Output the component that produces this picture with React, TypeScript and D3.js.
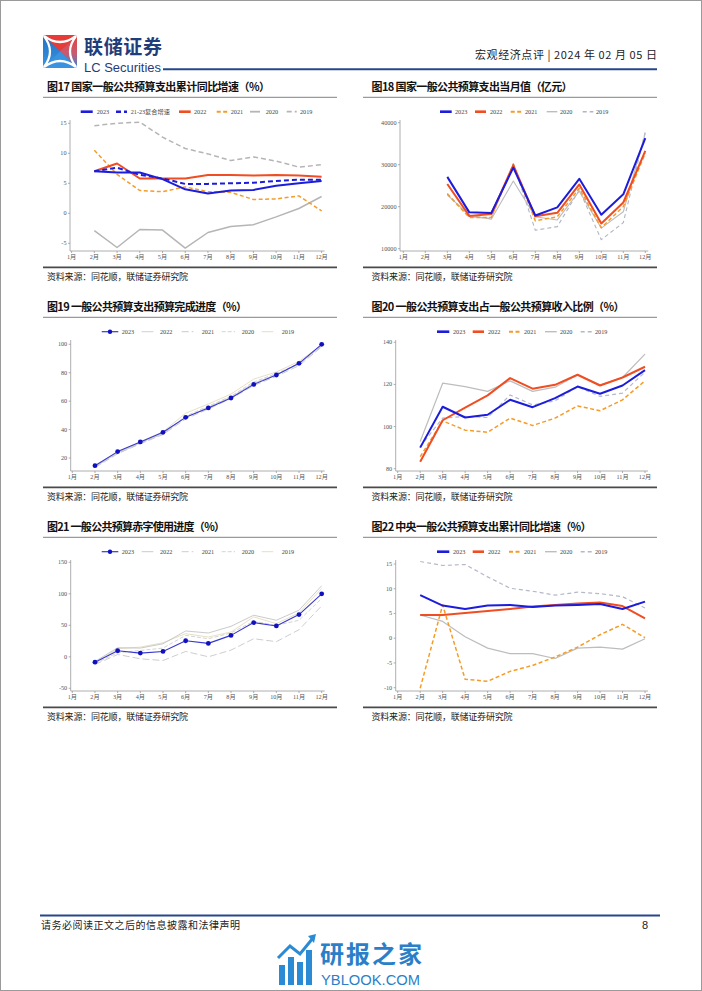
import React from "react";
import * as d3 from "d3";

type V = (number | null)[];

const MONTHS = ["1月", "2月", "3月", "4月", "5月", "6月", "7月", "8月", "9月", "10月", "11月", "12月"];

// 图17 国家一般公共预算支出累计同比增速（%）
const F17_TICKS = [15, 10, 5, 0, -5];
const F17_2023: V = [null, 7.0, 6.8, 6.8, 5.7, 4.0, 3.3, 3.8, 3.9, 4.6, 5.0, 5.4];
const F17_CAGR: V = [null, 7.0, 7.6, 6.4, 5.8, 4.9, 4.9, 5.0, 5.1, 5.4, 5.6, 5.6];
const F17_2022: V = [null, 7.0, 8.3, 5.8, 5.8, 5.8, 6.4, 6.4, 6.3, 6.4, 6.3, 6.1];
const F17_2021: V = [null, 10.5, 6.5, 3.8, 3.6, 4.4, 3.6, 3.5, 2.3, 2.4, 2.9, 0.4];
const F17_2020: V = [null, -2.9, -5.7, -2.7, -2.8, -5.8, -3.2, -2.2, -1.9, -0.6, 0.8, 2.8];
const F17_2019: V = [null, 14.6, 15.0, 15.2, 12.7, 10.8, 9.9, 8.8, 9.4, 8.7, 7.7, 8.1];

// 图18 国家一般公共预算支出当月值（亿元）
const F18_TICKS = [40000, 30000, 20000, 10000];
const F18_2023: V = [null, null, 27100, 18650, 18500, 29300, 17900, 19850, 26650, 18100, 22950, 36300];
const F18_2022: V = [null, null, 25400, 17800, 18250, 29900, 17700, 18550, 25300, 16000, 21000, 33300];
const F18_2021: V = [null, null, 23000, 17450, 17400, 30100, 16650, 17600, 24400, 15000, 20000, 32800];
const F18_2020: V = [null, null, 22800, 18000, 17000, 26100, 17600, 16850, 23700, 14900, 18800, 37500];
const F18_2019: V = [null, null, 23200, 17600, 17200, 30300, 14400, 15250, 24000, 12150, 16200, 37900];

// 图19 一般公共预算支出预算完成进度（%）
const F19_TICKS = [100, 80, 60, 40, 20];
const F19_2023: V = [null, 14.6, 24.5, 31.3, 38.1, 48.6, 55.2, 62.2, 71.8, 78.4, 86.6, 100];
const F19_2022: V = [null, 13.8, 23.8, 30.8, 37.3, 48.5, 55.8, 62.8, 72.5, 78.8, 86.0, 99.0];
const F19_2021: V = [null, 13.2, 23.0, 30.0, 36.5, 47.5, 54.5, 61.8, 71.0, 77.5, 85.0, 98.2];
const F19_2020: V = [null, 14.0, 23.3, 30.3, 37.0, 49.5, 56.5, 63.5, 73.5, 79.5, 86.5, 98.8];
const F19_2019: V = [null, 14.8, 24.3, 31.5, 38.5, 51.5, 58.0, 65.0, 75.5, 80.5, 88.0, 99.5];

// 图20 一般公共预算支出占一般公共预算收入比例（%）
const F20_TICKS = [140, 120, 100, 80];
const F20_2023: V = [null, 90.0, 109.4, 104.3, 105.6, 112.7, 109.2, 113.5, 119.0, 115.6, 119.5, 126.8];
const F20_2022: V = [null, 83.3, 103.0, 109.0, 114.8, 123.0, 118.0, 119.8, 124.6, 119.5, 123.3, 128.4];
const F20_2021: V = [null, 85.7, 102.7, 98.3, 97.3, 104.0, 100.5, 104.0, 109.8, 107.5, 112.7, 121.7];
const F20_2020: V = [null, 92.9, 120.6, 119.0, 116.7, 121.7, 116.7, 118.7, 124.6, 119.8, 123.3, 134.4];
const F20_2019: V = [null, 90.5, 104.0, 104.8, 104.3, 115.0, 110.3, 112.2, 119.0, 114.3, 115.9, 125.9];

// 图21 一般公共预算赤字使用进度（%）
const F21_TICKS = [150, 100, 50, 0, -50];
const F21_2023: V = [null, -8.5, 9.6, 5.9, 8.5, 25.5, 21.3, 34.0, 54.3, 49.0, 67.0, 100];
const F21_2022: V = [null, -7.4, 14.4, 13.8, 20.7, 41.0, 37.8, 48.4, 66.0, 58.0, 74.0, 112.8];
const F21_2021: V = [null, -12.2, 3.7, -3.2, -5.9, 8.5, 0.0, 10.6, 28.7, 24.0, 43.0, 80.9];
const F21_2020: V = [null, -10.6, 6.4, 10.0, 13.8, 34.0, 28.7, 37.8, 56.4, 50.0, 58.0, 92.5];
const F21_2019: V = [null, -9.6, 12.8, 15.4, 22.3, 36.7, 31.4, 39.4, 63.3, 52.7, 69.7, 108.5];

// 图22 中央一般公共预算支出累计同比增速（%）
const F22_TICKS = [15, 10, 5, 0, -5, -10];
const F22_2023: V = [null, 8.7, 6.6, 5.9, 6.6, 6.7, 6.3, 6.6, 6.7, 6.9, 5.9, 7.4];
const F22_2022: V = [null, 4.7, 4.7, 5.1, 5.5, 5.9, 6.4, 6.7, 7.0, 7.2, 6.5, 4.0];
const F22_2021: V = [null, -10.1, 6.7, -8.3, -8.7, -6.7, -5.5, -3.8, -1.8, 0.7, 2.8, 0.1];
const F22_2020: V = [null, 4.7, 3.4, 0.3, -2.0, -3.1, -3.1, -4.1, -2.0, -1.8, -2.2, -0.1];
const F22_2019: V = [null, 15.5, 14.7, 14.9, 12.4, 10.1, 9.5, 8.7, 9.3, 9.0, 8.4, 6.1];

const BLUE = "#1c1cdc";
const RED = "#f04e22";
const ORANGE = "#f59c28";
const GREY = "#b5b5b5";
const NAVY = "#1f3d7a";

const SERIF = "'Liberation Serif','DejaVu Serif','Noto Sans CJK SC',serif";
const CJK = "'Noto Sans CJK SC','Noto Sans',sans-serif";

type S = { name: string; values: V; color: string; width: number; dash?: string; marker?: boolean; lw?: number };
type Spec = {
  title: string;
  titleW: number;
  col: 0 | 1;
  row: number;
  axisX: number;
  xr: [number, number];
  ticks: number[];
  tp: [number, number];
  series: S[];
  legend: [number, number, number][];
};

function Chart({ spec }: { spec: Spec }) {
  const off = spec.row * 220;
  const left = spec.col === 0;
  const px0 = left ? 43 : 363;
  const px1 = left ? 337 : 657;
  const tx = left ? 47 : 371.5;
  const x = d3.scalePoint<string>().domain(MONTHS).range(spec.xr);
  const y = d3
    .scaleLinear()
    .domain([spec.ticks[0], spec.ticks[spec.ticks.length - 1]])
    .range([spec.tp[0] + off, spec.tp[1] + off]);
  const lineGen = d3
    .line<number | null>()
    .defined((v) => v != null)
    .x((_, i) => x(MONTHS[i]) as number)
    .y((v) => y(v as number));
  const axTop = 120 + off;
  const axBot = 251 + off;
  const xEnd = spec.xr[1] + 3;
  const legY = 111.7 + off;
  return (
    <g>
      <text x={tx} y={91 + off} fontFamily={CJK} fontWeight={700} fontSize={11} fill="#111" textLength={spec.titleW} lengthAdjust="spacing">
        {spec.title}
      </text>
      <line x1={px0} x2={px1} y1={97.3 + off} y2={97.3 + off} stroke="#9a9a9a" strokeWidth={1.2} />
      {spec.series.map((s, i) => {
        const l = spec.legend[i];
        return (
          <g key={s.name}>
            <line x1={l[0]} x2={l[1]} y1={legY} y2={legY} stroke={s.color} strokeWidth={s.lw ?? Math.max(s.width, 1) + 0.6} strokeDasharray={s.dash} />
            {s.marker && <circle cx={(l[0] + l[1]) / 2} cy={legY} r={2.2} fill="#1010c0" />}
            <text x={l[2]} y={legY + 2.1} fontFamily={SERIF} fontSize={6.2} fill="#444">
              {s.name}
            </text>
          </g>
        );
      })}
      <line x1={spec.axisX} x2={spec.axisX} y1={axTop} y2={axBot} stroke="#9a9a9a" strokeWidth={0.8} />
      <line x1={spec.axisX} x2={xEnd} y1={axBot} y2={axBot} stroke="#9a9a9a" strokeWidth={0.8} />
      {spec.ticks.map((t) => (
        <g key={t}>
          <line x1={spec.axisX - 2} x2={spec.axisX} y1={y(t)} y2={y(t)} stroke="#9a9a9a" strokeWidth={0.8} />
          <text x={spec.axisX - 3.5} y={y(t) + 2} textAnchor="end" fontFamily={SERIF} fontSize={6.2} fill="#555">
            {String(t)}
          </text>
        </g>
      ))}
      {MONTHS.map((m) => (
        <g key={m}>
          <line x1={x(m)} x2={x(m)} y1={axBot} y2={axBot + 2} stroke="#9a9a9a" strokeWidth={0.8} />
          <text x={x(m)} y={259 + off} textAnchor="middle" fontFamily={SERIF} fontSize={6.2} fill="#555">
            {m}
          </text>
        </g>
      ))}
      {spec.series
        .slice()
        .reverse()
        .map((s) => (
          <g key={s.name}>
            <path d={lineGen(s.values) || ""} fill="none" stroke={s.color} strokeWidth={s.width} strokeDasharray={s.dash} strokeLinejoin="round" />
            {s.marker &&
              s.values.map((v, i) =>
                v == null ? null : <circle key={i} cx={x(MONTHS[i])} cy={y(v)} r={2.4} fill="#1010c0" />
              )}
          </g>
        ))}
      <line x1={px0} x2={px1} y1={267.3 + off} y2={267.3 + off} stroke="#4a4a4a" strokeWidth={1.8} />
      <text x={tx} y={280 + off} fontFamily={CJK} fontSize={9} fill="#222" textLength={141} lengthAdjust="spacing">
        资料来源：同花顺，联储证券研究院
      </text>
    </g>
  );
}

const LEG_L6: [number, number, number][] = [
  [80.7, 92.7, 96.7],
  [116, 127, 130.7],
  [179, 190.7, 194],
  [216.7, 228, 230.7],
  [250, 260, 265.7],
  [286.7, 296.7, 300],
];
const LEG_R18: [number, number, number][] = [
  [440, 451.7, 455],
  [475, 486, 490],
  [510.7, 521.7, 525],
  [546.7, 557.3, 560],
  [582.7, 593.3, 596],
];
const LEG_L5: [number, number, number][] = [
  [101.7, 118.3, 121.7],
  [141.7, 153.3, 160],
  [181.7, 193.3, 201.7],
  [221.7, 235, 241.7],
  [261.7, 273.3, 281.7],
];
const LEG_R5: [number, number, number][] = [
  [437, 449.3, 453],
  [472.7, 484, 488],
  [509, 520, 524],
  [545, 556.7, 560],
  [580.7, 591.7, 595],
];

const SPECS: Spec[] = [
  {
    title: "图17 国家一般公共预算支出累计同比增速（%）",
    titleW: 223,
    col: 0,
    row: 0,
    axisX: 70,
    xr: [71.6, 321.6],
    ticks: F17_TICKS,
    tp: [123.3, 243.3],
    legend: LEG_L6,
    series: [
      { name: "2023", values: F17_2023, color: BLUE, width: 2, lw: 2.6 },
      { name: "21-23复合增速", values: F17_CAGR, color: BLUE, width: 2, dash: "5,3", lw: 2.6 },
      { name: "2022", values: F17_2022, color: RED, width: 2, lw: 2.6 },
      { name: "2021", values: F17_2021, color: ORANGE, width: 1.5, dash: "4,2.5", lw: 2 },
      { name: "2020", values: F17_2020, color: GREY, width: 1.5, lw: 1.8 },
      { name: "2019", values: F17_2019, color: GREY, width: 1.5, dash: "5,3", lw: 1.8 },
    ],
  },
  {
    title: "图18 国家一般公共预算支出当月值（亿元）",
    titleW: 201,
    col: 1,
    row: 0,
    axisX: 400,
    xr: [403.3, 645.3],
    ticks: F18_TICKS,
    tp: [122.7, 248.7],
    legend: LEG_R18,
    series: [
      { name: "2023", values: F18_2023, color: BLUE, width: 2, lw: 2.6 },
      { name: "2022", values: F18_2022, color: RED, width: 2, lw: 2.6 },
      { name: "2021", values: F18_2021, color: ORANGE, width: 1.5, dash: "4,2.5", lw: 2 },
      { name: "2020", values: F18_2020, color: "#bdbdbd", width: 1.1, lw: 1.4 },
      { name: "2019", values: F18_2019, color: "#b0b4c4", width: 1.1, dash: "4,3", lw: 1.4 },
    ],
  },
  {
    title: "图19 一般公共预算支出预算完成进度（%）",
    titleW: 200,
    col: 0,
    row: 1,
    axisX: 70.7,
    xr: [72.3, 321.7],
    ticks: F19_TICKS,
    tp: [124.3, 238],
    legend: LEG_L5,
    series: [
      { name: "2023", values: F19_2023, color: "#3838d0", width: 1.1, marker: true, lw: 1.2 },
      { name: "2022", values: F19_2022, color: "#c4c4c4", width: 0.8, lw: 0.8 },
      { name: "2021", values: F19_2021, color: "#bcbcbc", width: 0.8, dash: "7,3", lw: 0.8 },
      { name: "2020", values: F19_2020, color: "#c8c8c8", width: 0.8, dash: "4,2", lw: 0.8 },
      { name: "2019", values: F19_2019, color: "#e4dcbc", width: 0.9, lw: 0.9 },
    ],
  },
  {
    title: "图20 一般公共预算支出占一般公共预算收入比例（%）",
    titleW: 253,
    col: 1,
    row: 1,
    axisX: 395.7,
    xr: [397.7, 645],
    ticks: F20_TICKS,
    tp: [122.3, 248.7],
    legend: LEG_R5,
    series: [
      { name: "2023", values: F20_2023, color: BLUE, width: 2, lw: 2.6 },
      { name: "2022", values: F20_2022, color: RED, width: 2, lw: 2.6 },
      { name: "2021", values: F20_2021, color: ORANGE, width: 1.5, dash: "4,2.5", lw: 2 },
      { name: "2020", values: F20_2020, color: "#bdbdbd", width: 1.2, lw: 1.4 },
      { name: "2019", values: F20_2019, color: "#b4b8c8", width: 1.2, dash: "4,3", lw: 1.4 },
    ],
  },
  {
    title: "图21 一般公共预算赤字使用进度（%）",
    titleW: 178,
    col: 0,
    row: 2,
    axisX: 70.7,
    xr: [72.3, 321.7],
    ticks: F21_TICKS,
    tp: [122.3, 248.3],
    legend: LEG_L5,
    series: [
      { name: "2023", values: F21_2023, color: "#3838d0", width: 1.1, marker: true, lw: 1.2 },
      { name: "2022", values: F21_2022, color: "#bcbcbc", width: 0.8, lw: 0.8 },
      { name: "2021", values: F21_2021, color: "#c0c0c0", width: 0.8, dash: "7,3", lw: 0.8 },
      { name: "2020", values: F21_2020, color: "#c8c8c8", width: 0.8, dash: "4,2", lw: 0.8 },
      { name: "2019", values: F21_2019, color: "#e4dcbc", width: 0.9, lw: 0.9 },
    ],
  },
  {
    title: "图22 中央一般公共预算支出累计同比增速（%）",
    titleW: 220,
    col: 1,
    row: 2,
    axisX: 395.7,
    xr: [397.7, 645],
    ticks: F22_TICKS,
    tp: [124, 247.7],
    legend: LEG_R5,
    series: [
      { name: "2023", values: F22_2023, color: BLUE, width: 2, lw: 2.6 },
      { name: "2022", values: F22_2022, color: RED, width: 2, lw: 2.6 },
      { name: "2021", values: F22_2021, color: ORANGE, width: 1.5, dash: "4,2.5", lw: 2 },
      { name: "2020", values: F22_2020, color: "#bdbdbd", width: 1.2, lw: 1.4 },
      { name: "2019", values: F22_2019, color: "#b4b8c8", width: 1.2, dash: "4,3", lw: 1.4 },
    ],
  },
];

function Logo() {
  return (
    <g transform="translate(43,35)">
      <defs>
        <clipPath id="logoClip">
          <rect x={0} y={0} width={34} height={33} rx={3} />
        </clipPath>
        <linearGradient id="rgGrad" x1="0" y1="0" x2="0" y2="1">
          <stop offset="0" stopColor="#e8403a" />
          <stop offset="0.55" stopColor="#c85a70" />
          <stop offset="1" stopColor="#2e86d8" />
        </linearGradient>
        <linearGradient id="blGrad" x1="0" y1="0" x2="0" y2="1">
          <stop offset="0" stopColor="#1f6fc4" />
          <stop offset="1" stopColor="#3b96e2" />
        </linearGradient>
      </defs>
      <g clipPath="url(#logoClip)">
        <rect x={0} y={0} width={34} height={33} fill="url(#blGrad)" />
        <polygon points="0,0 34,0 17,16.5" fill="#e63b36" />
        <polygon points="34,0 34,33 17,16.5" fill="url(#rgGrad)" />
        <polygon points="0,33 34,33 17,16.5" fill="#3a93e0" />
        <path d="M0,0 Q17,14 34,0 M0,33 Q17,19 34,33 M0,0 Q14,16.5 0,33 M34,0 Q20,16.5 34,33" stroke="#fff" strokeWidth={2.2} fill="none" />
      </g>
    </g>
  );
}

function Watermark() {
  const bars = [
    [279, 965, 6, 20],
    [288, 957, 6, 28],
    [297, 962, 6, 23],
    [306, 950, 6, 35],
  ];
  return (
    <g>
      {bars.map((b, i) => (
        <rect key={i} x={b[0]} y={b[1]} width={b[2]} height={b[3]} fill="#2a8bd4" />
      ))}
      <polyline points="278,958 290,946 300,954 313,938" fill="none" stroke="#2a8bd4" strokeWidth={3} />
      <polygon points="308,936 316,934 314,943" fill="#2a8bd4" />
      <text x={320} y={963} fontFamily={CJK} fontWeight={700} fontSize={24} fill="#2a7fc8" textLength={102} lengthAdjust="spacing">
        研报之家
      </text>
      <text x={321} y={985} fontFamily="'Liberation Sans','Roboto',sans-serif" fontSize={15} fill="#2a7fc8" textLength={99} lengthAdjust="spacingAndGlyphs">
        YBLOOK.COM
      </text>
    </g>
  );
}

export default function App() {
  return (
    <svg
      width={702}
      height={991}
      viewBox="0 0 702 991"
      style={{ position: "absolute", left: 0, top: 0, background: "#fff" }}
    >
      <rect x={0} y={0} width={702} height={991} fill="#fff" />
      <rect x={0.5} y={0.5} width={701} height={990} fill="none" stroke="#9a9a9a" strokeWidth={1} />
      <Logo />
      <text x={84} y={54} fontFamily={CJK} fontWeight={700} fontSize={19} fill={NAVY} textLength={78} lengthAdjust="spacing">
        联储证券
      </text>
      <text x={84} y={71.5} fontFamily="'Liberation Sans','Roboto',sans-serif" fontSize={12.5} fill={NAVY} textLength={77} lengthAdjust="spacingAndGlyphs">
        LC Securities
      </text>
      <line x1={163} x2={657} y1={69.3} y2={69.3} stroke="#27468c" strokeWidth={2} />
      <text x={657} y={59} textAnchor="end" fontFamily={CJK} fontSize={11} fill="#222" textLength={182} lengthAdjust="spacing">
        宏观经济点评 | 2024 年 02 月 05 日
      </text>

      {SPECS.map((s) => (
        <Chart key={s.title} spec={s} />
      ))}

      <line x1={40} x2={660} y1={915.5} y2={915.5} stroke="#27468c" strokeWidth={2} />
      <text x={41} y={928.5} fontFamily={CJK} fontSize={10} fill="#222" textLength={199} lengthAdjust="spacing">
        请务必阅读正文之后的信息披露和法律声明
      </text>
      <text x={645} y={929} textAnchor="middle" fontFamily="'Liberation Sans',sans-serif" fontSize={11} fill="#222">
        8
      </text>
      <Watermark />
    </svg>
  );
}
